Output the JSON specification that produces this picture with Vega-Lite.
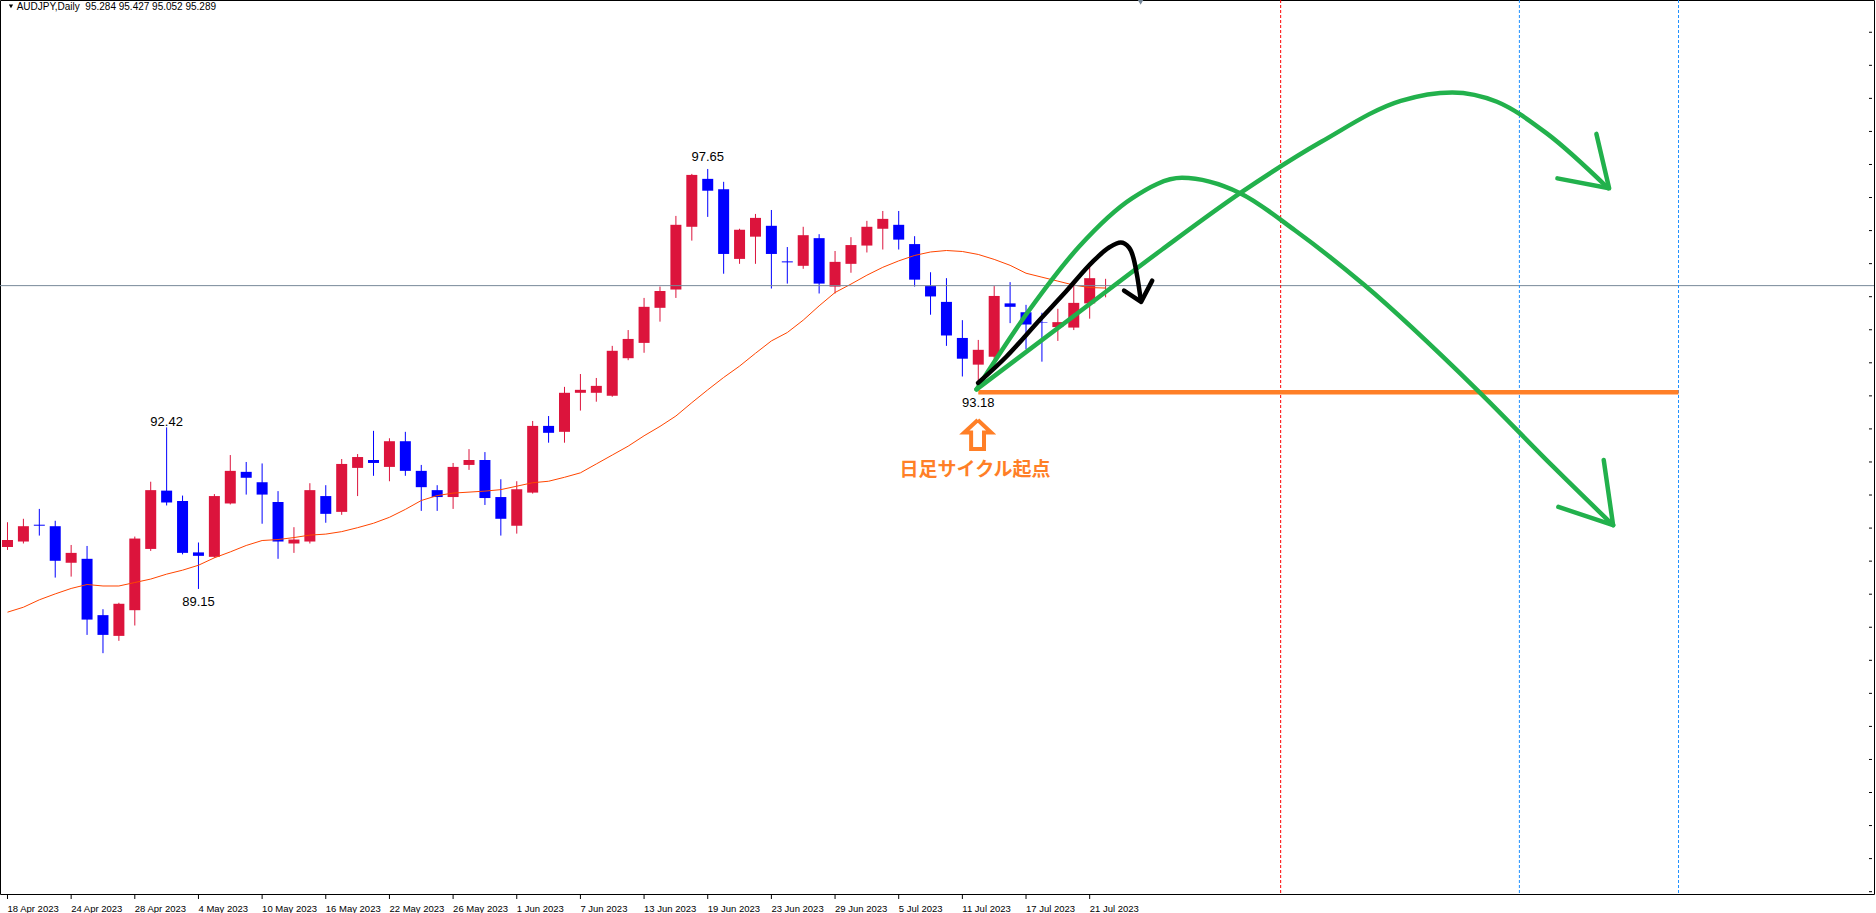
{
  "$schema": "https://vega.github.io/schema/vega-lite/v6.json",
  "width": 1874,
  "height": 894,
  "autosize": {"type": "none"},
  "padding": {"left": 0, "top": 0, "right": 2, "bottom": 19},
  "background": "#ffffff",
  "config": {"view": {"stroke": "#000000", "strokeWidth": 1}},
  "datasets": {
    "candles": [
      {"i":0,"o":90.00,"h":90.50,"l":89.94,"c":90.14,"m":88.68},
      {"i":1,"o":90.11,"h":90.57,"l":90.07,"c":90.42,"m":88.78},
      {"i":2,"o":90.45,"h":90.77,"l":90.23,"c":90.43,"m":88.93},
      {"i":3,"o":90.42,"h":90.53,"l":89.38,"c":89.72,"m":89.05},
      {"i":4,"o":89.68,"h":90.04,"l":89.40,"c":89.88,"m":89.16},
      {"i":5,"o":89.76,"h":90.02,"l":88.22,"c":88.53,"m":89.24},
      {"i":6,"o":88.62,"h":88.74,"l":87.85,"c":88.22,"m":89.21},
      {"i":7,"o":88.20,"h":88.87,"l":88.10,"c":88.85,"m":89.21},
      {"i":8,"o":88.72,"h":90.21,"l":88.41,"c":90.17,"m":89.28},
      {"i":9,"o":89.96,"h":91.32,"l":89.92,"c":91.15,"m":89.35},
      {"i":10,"o":91.14,"h":92.42,"l":90.84,"c":90.90,"m":89.45},
      {"i":11,"o":90.93,"h":91.04,"l":89.85,"c":89.88,"m":89.53},
      {"i":12,"o":89.89,"h":90.09,"l":89.15,"c":89.82,"m":89.63},
      {"i":13,"o":89.80,"h":91.07,"l":89.78,"c":91.03,"m":89.78},
      {"i":14,"o":90.88,"h":91.86,"l":90.86,"c":91.54,"m":89.90},
      {"i":15,"o":91.52,"h":91.72,"l":91.06,"c":91.40,"m":90.03},
      {"i":16,"o":91.31,"h":91.69,"l":90.47,"c":91.06,"m":90.13},
      {"i":17,"o":90.91,"h":91.13,"l":89.76,"c":90.11,"m":90.15},
      {"i":18,"o":90.07,"h":90.40,"l":89.88,"c":90.15,"m":90.19},
      {"i":19,"o":90.11,"h":91.29,"l":90.07,"c":91.15,"m":90.24},
      {"i":20,"o":91.03,"h":91.25,"l":90.49,"c":90.67,"m":90.26},
      {"i":21,"o":90.71,"h":91.78,"l":90.65,"c":91.68,"m":90.31},
      {"i":22,"o":91.60,"h":91.88,"l":91.03,"c":91.82,"m":90.39},
      {"i":23,"o":91.76,"h":92.35,"l":91.44,"c":91.70,"m":90.48},
      {"i":24,"o":91.62,"h":92.20,"l":91.33,"c":92.14,"m":90.60},
      {"i":25,"o":92.14,"h":92.33,"l":91.44,"c":91.54,"m":90.76},
      {"i":26,"o":91.54,"h":91.66,"l":90.73,"c":91.21,"m":90.94},
      {"i":27,"o":91.15,"h":91.25,"l":90.73,"c":91.01,"m":91.04},
      {"i":28,"o":91.01,"h":91.70,"l":90.77,"c":91.62,"m":91.09},
      {"i":29,"o":91.66,"h":91.98,"l":91.56,"c":91.76,"m":91.11},
      {"i":30,"o":91.76,"h":91.92,"l":90.85,"c":90.99,"m":91.13},
      {"i":31,"o":91.01,"h":91.37,"l":90.23,"c":90.57,"m":91.16},
      {"i":32,"o":90.43,"h":91.33,"l":90.27,"c":91.17,"m":91.23},
      {"i":33,"o":91.10,"h":92.55,"l":91.08,"c":92.45,"m":91.30},
      {"i":34,"o":92.45,"h":92.65,"l":92.11,"c":92.31,"m":91.33},
      {"i":35,"o":92.33,"h":93.24,"l":92.11,"c":93.12,"m":91.41},
      {"i":36,"o":93.12,"h":93.50,"l":92.76,"c":93.18,"m":91.50},
      {"i":37,"o":93.12,"h":93.42,"l":92.94,"c":93.26,"m":91.68},
      {"i":38,"o":93.06,"h":94.07,"l":93.04,"c":93.97,"m":91.86},
      {"i":39,"o":93.82,"h":94.39,"l":93.78,"c":94.21,"m":92.04},
      {"i":40,"o":94.13,"h":95.04,"l":93.93,"c":94.86,"m":92.25},
      {"i":41,"o":94.84,"h":95.27,"l":94.56,"c":95.18,"m":92.44},
      {"i":42,"o":95.21,"h":96.70,"l":95.04,"c":96.52,"m":92.65},
      {"i":43,"o":96.48,"h":97.55,"l":96.20,"c":97.53,"m":92.92},
      {"i":44,"o":97.45,"h":97.65,"l":96.68,"c":97.21,"m":93.18},
      {"i":45,"o":97.24,"h":97.39,"l":95.53,"c":95.93,"m":93.43},
      {"i":46,"o":95.83,"h":96.44,"l":95.73,"c":96.42,"m":93.66},
      {"i":47,"o":96.28,"h":96.74,"l":95.73,"c":96.66,"m":93.92},
      {"i":48,"o":96.50,"h":96.82,"l":95.23,"c":95.93,"m":94.17},
      {"i":49,"o":95.78,"h":96.07,"l":95.33,"c":95.76,"m":94.34},
      {"i":50,"o":95.69,"h":96.48,"l":95.63,"c":96.31,"m":94.59},
      {"i":51,"o":96.25,"h":96.33,"l":95.13,"c":95.33,"m":94.88},
      {"i":52,"o":95.27,"h":95.99,"l":95.13,"c":95.77,"m":95.15},
      {"i":53,"o":95.73,"h":96.27,"l":95.55,"c":96.11,"m":95.32},
      {"i":54,"o":96.10,"h":96.60,"l":95.96,"c":96.48,"m":95.50},
      {"i":55,"o":96.44,"h":96.80,"l":96.02,"c":96.64,"m":95.66},
      {"i":56,"o":96.52,"h":96.80,"l":96.02,"c":96.22,"m":95.79},
      {"i":57,"o":96.13,"h":96.29,"l":95.27,"c":95.41,"m":95.90},
      {"i":58,"o":95.28,"h":95.56,"l":94.70,"c":95.07,"m":95.97},
      {"i":59,"o":94.96,"h":95.44,"l":94.07,"c":94.28,"m":96.00},
      {"i":60,"o":94.23,"h":94.59,"l":93.45,"c":93.81,"m":95.98},
      {"i":61,"o":93.69,"h":94.19,"l":93.18,"c":93.99,"m":95.92},
      {"i":62,"o":93.85,"h":95.28,"l":93.78,"c":95.08,"m":95.82},
      {"i":63,"o":94.93,"h":95.36,"l":94.53,"c":94.86,"m":95.70},
      {"i":64,"o":94.75,"h":94.90,"l":94.00,"c":94.50,"m":95.54},
      {"i":65,"o":94.55,"h":94.74,"l":93.75,"c":94.54,"m":95.46},
      {"i":66,"o":94.45,"h":94.82,"l":94.17,"c":94.55,"m":95.38},
      {"i":67,"o":94.44,"h":95.30,"l":94.39,"c":94.94,"m":95.30},
      {"i":68,"o":94.93,"h":95.69,"l":94.62,"c":95.44,"m":95.25},
      {"i":69,"o":95.284,"h":95.427,"l":95.052,"c":95.289,"m":95.24}
    ],
    "dates": [
      {"i":0,"t":"18 Apr 2023"},{"i":4,"t":"24 Apr 2023"},{"i":8,"t":"28 Apr 2023"},{"i":12,"t":"4 May 2023"},
      {"i":16,"t":"10 May 2023"},{"i":20,"t":"16 May 2023"},{"i":24,"t":"22 May 2023"},{"i":28,"t":"26 May 2023"},
      {"i":32,"t":"1 Jun 2023"},{"i":36,"t":"7 Jun 2023"},{"i":40,"t":"13 Jun 2023"},{"i":44,"t":"19 Jun 2023"},
      {"i":48,"t":"23 Jun 2023"},{"i":52,"t":"29 Jun 2023"},{"i":56,"t":"5 Jul 2023"},{"i":60,"t":"11 Jul 2023"},
      {"i":64,"t":"17 Jul 2023"},{"i":68,"t":"21 Jul 2023"}
    ],
    "pticks": [
      {"p":83.023},{"p":83.692},{"p":84.361},{"p":85.03},{"p":85.699},{"p":86.368},{"p":87.037},{"p":87.706},
      {"p":88.375},{"p":89.044},{"p":89.713},{"p":90.382},{"p":91.051},{"p":91.72},{"p":92.389},{"p":93.058},
      {"p":93.727},{"p":94.396},{"p":95.065},{"p":95.734},{"p":96.403},{"p":97.072},{"p":97.741},{"p":98.41},
      {"p":99.079},{"p":99.748},{"p":100.417}
    ],
    "green": [
      {"g":"A","k":0,"x":60.89,"y":93.19},{"g":"A","k":1,"x":64.22,"y":94.80},{"g":"A","k":2,"x":67.34,"y":96.08},
      {"g":"A","k":3,"x":70.68,"y":97.06},{"g":"A","k":4,"x":73.80,"y":97.47},{"g":"A","k":5,"x":77.45,"y":97.16},
      {"g":"A","k":6,"x":80.89,"y":96.41},{"g":"A","k":7,"x":85.26,"y":95.30},{"g":"A","k":8,"x":92.34,"y":93.18},
      {"g":"A","k":9,"x":97.14,"y":91.62},{"g":"A","k":10,"x":100.89,"y":90.44},
      {"g":"B","k":0,"x":60.89,"y":93.19},{"g":"B","k":1,"x":67.34,"y":94.755},{"g":"B","k":2,"x":72.55,"y":96.02},
      {"g":"B","k":3,"x":77.45,"y":97.16},{"g":"B","k":4,"x":82.55,"y":98.20},{"g":"B","k":5,"x":87.55,"y":99.03},
      {"g":"B","k":6,"x":90.78,"y":99.20},{"g":"B","k":7,"x":93.59,"y":99.01},{"g":"B","k":8,"x":96.72,"y":98.37},
      {"g":"B","k":9,"x":100.58,"y":97.26}
    ],
    "black": [
      {"k":0,"x":60.99,"y":93.32},{"k":1,"x":62.76,"y":93.85},{"k":2,"x":64.84,"y":94.59},{"k":3,"x":66.51,"y":95.17},
      {"k":4,"x":68.18,"y":95.77},{"k":5,"x":69.22,"y":96.06},{"k":6,"x":69.95,"y":96.16},{"k":7,"x":70.47,"y":96.06},
      {"k":8,"x":70.78,"y":95.81},{"k":9,"x":70.99,"y":95.47},{"k":10,"x":71.22,"y":94.98}
    ],
    "heads": [
      {"g":"hA","k":0,"x":97.45,"y":90.81},{"g":"hA","k":1,"x":100.89,"y":90.44},{"g":"hA","k":2,"x":100.30,"y":91.76},
      {"g":"hB","k":0,"x":97.39,"y":97.46},{"g":"hB","k":1,"x":100.64,"y":97.26},{"g":"hB","k":2,"x":99.84,"y":98.36},
      {"g":"hK","k":0,"x":70.16,"y":95.19},{"g":"hK","k":1,"x":71.23,"y":94.96},{"g":"hK","k":2,"x":71.93,"y":95.39}
    ],
    "outline": [
      {"k":0,"x":60.97,"y":92.57},{"k":1,"x":61.81,"y":92.316},{"k":2,"x":61.36,"y":92.316},{"k":3,"x":61.36,"y":91.982},
      {"k":4,"x":60.55,"y":91.982},{"k":5,"x":60.55,"y":92.316},{"k":6,"x":60.12,"y":92.316},{"k":7,"x":60.97,"y":92.57}
    ],
    "labels": [
      {"i":44,"v":97.65,"t":"97.65","s":"top"},
      {"i":10,"v":92.42,"t":"92.42","s":"hi"},
      {"i":12,"v":89.15,"t":"89.15","s":"lo"},
      {"i":61,"v":93.18,"t":"93.18","s":"lo"}
    ],
    "vlines": [{"i":80},{"i":95},{"i":105}],
    "level": [{"a":61,"b":105,"p":93.13}],
    "bid": [{"p":95.289}]
  },
  "layer": [
    {
      "data": {"name": "candles"},
      "mark": {"type": "rule", "strokeWidth": 1},
      "encoding": {
        "x": {"field": "i", "type": "quantitative", "scale": {"domain": [-0.15625, 116.96875], "nice": false, "zero": false}, "axis": null},
        "y": {"field": "l", "type": "quantitative", "scale": {"domain": [82.976, 101.07], "nice": false, "zero": false}, "axis": null},
        "y2": {"field": "h"},
        "color": {"condition": {"test": "datum.c > datum.o", "value": "#DC143C"}, "value": "#0000FF"}
      }
    },
    {
      "data": {"name": "candles"},
      "mark": {"type": "bar", "size": 11},
      "encoding": {
        "x": {"field": "i", "type": "quantitative", "scale": {"domain": [-0.15625, 116.96875], "nice": false, "zero": false}, "axis": null},
        "y": {"field": "o", "type": "quantitative", "scale": {"domain": [82.976, 101.07], "nice": false, "zero": false}, "axis": null},
        "y2": {"field": "c"},
        "color": {"condition": {"test": "datum.c > datum.o", "value": "#DC143C"}, "value": "#0000FF"}
      }
    },
    {
      "data": {"name": "candles"},
      "mark": {"type": "line", "color": "#FF4500", "strokeWidth": 1},
      "encoding": {
        "x": {"field": "i", "type": "quantitative", "scale": {"domain": [-0.15625, 116.96875], "nice": false, "zero": false}, "axis": null},
        "y": {"field": "m", "type": "quantitative", "scale": {"domain": [82.976, 101.07], "nice": false, "zero": false}, "axis": null}
      }
    },
    {
      "data": {"name": "dates"},
      "mark": {"type": "rule", "color": "#000000", "strokeWidth": 1},
      "encoding": {
        "x": {"field": "i", "type": "quantitative", "scale": {"domain": [-0.15625, 116.96875], "nice": false, "zero": false}, "axis": null},
        "y": {"datum": 82.976, "type": "quantitative", "scale": {"domain": [82.976, 101.07], "nice": false, "zero": false}, "axis": null},
        "y2": {"datum": 82.875}
      }
    },
    {
      "data": {"name": "dates"},
      "mark": {"type": "text", "font": "Liberation Sans", "fontSize": 9.5, "color": "#000000", "align": "left", "baseline": "top", "dy": 9.5},
      "encoding": {
        "x": {"field": "i", "type": "quantitative", "scale": {"domain": [-0.15625, 116.96875], "nice": false, "zero": false}, "axis": null},
        "y": {"datum": 82.976, "type": "quantitative", "scale": {"domain": [82.976, 101.07], "nice": false, "zero": false}, "axis": null},
        "text": {"field": "t"}
      }
    },
    {
      "data": {"name": "pticks"},
      "mark": {"type": "rule", "color": "#000000", "strokeWidth": 1},
      "encoding": {
        "x": {"datum": 116.96875, "type": "quantitative", "scale": {"domain": [-0.15625, 116.96875], "nice": false, "zero": false}, "axis": null},
        "x2": {"datum": 117.15625},
        "y": {"field": "p", "type": "quantitative", "scale": {"domain": [82.976, 101.07], "nice": false, "zero": false}, "axis": null}
      }
    },
    {
      "data": {"name": "bid"},
      "mark": {"type": "rule", "color": "#778899", "strokeWidth": 1},
      "encoding": {
        "y": {"field": "p", "type": "quantitative", "scale": {"domain": [82.976, 101.07], "nice": false, "zero": false}, "axis": null}
      }
    },
    {
      "data": {"name": "vlines"},
      "mark": {"type": "rule", "strokeWidth": 1, "strokeDash": [3, 2]},
      "encoding": {
        "x": {"field": "i", "type": "quantitative", "scale": {"domain": [-0.15625, 116.96875], "nice": false, "zero": false}, "axis": null},
        "color": {"condition": {"test": "datum.i == 80", "value": "#FF0000"}, "value": "#1E90FF"}
      }
    },
    {
      "data": {"name": "level"},
      "mark": {"type": "rule", "color": "#FF7F27", "strokeWidth": 4.5, "strokeCap": "butt"},
      "encoding": {
        "x": {"field": "a", "type": "quantitative", "scale": {"domain": [-0.15625, 116.96875], "nice": false, "zero": false}, "axis": null},
        "x2": {"field": "b"},
        "y": {"field": "p", "type": "quantitative", "scale": {"domain": [82.976, 101.07], "nice": false, "zero": false}, "axis": null}
      }
    },
    {
      "data": {"name": "green"},
      "mark": {"type": "line", "color": "#22B14C", "strokeWidth": 4.5, "interpolate": "monotone", "strokeCap": "round"},
      "encoding": {
        "x": {"field": "x", "type": "quantitative", "scale": {"domain": [-0.15625, 116.96875], "nice": false, "zero": false}, "axis": null},
        "y": {"field": "y", "type": "quantitative", "scale": {"domain": [82.976, 101.07], "nice": false, "zero": false}, "axis": null},
        "detail": {"field": "g"},
        "order": {"field": "k", "type": "quantitative"}
      }
    },
    {
      "data": {"name": "black"},
      "mark": {"type": "line", "color": "#000000", "strokeWidth": 4.5, "interpolate": "monotone", "strokeCap": "round"},
      "encoding": {
        "x": {"field": "x", "type": "quantitative", "scale": {"domain": [-0.15625, 116.96875], "nice": false, "zero": false}, "axis": null},
        "y": {"field": "y", "type": "quantitative", "scale": {"domain": [82.976, 101.07], "nice": false, "zero": false}, "axis": null},
        "order": {"field": "k", "type": "quantitative"}
      }
    },
    {
      "data": {"name": "heads"},
      "mark": {"type": "line", "strokeWidth": 4.5, "strokeCap": "round", "strokeJoin": "round"},
      "encoding": {
        "x": {"field": "x", "type": "quantitative", "scale": {"domain": [-0.15625, 116.96875], "nice": false, "zero": false}, "axis": null},
        "y": {"field": "y", "type": "quantitative", "scale": {"domain": [82.976, 101.07], "nice": false, "zero": false}, "axis": null},
        "detail": {"field": "g"},
        "order": {"field": "k", "type": "quantitative"},
        "color": {"condition": {"test": "datum.g == 'hK'", "value": "#000000"}, "value": "#22B14C"}
      }
    },
    {
      "data": {"name": "outline"},
      "mark": {"type": "line", "color": "#FF7F27", "strokeWidth": 4, "strokeJoin": "miter"},
      "encoding": {
        "x": {"field": "x", "type": "quantitative", "scale": {"domain": [-0.15625, 116.96875], "nice": false, "zero": false}, "axis": null},
        "y": {"field": "y", "type": "quantitative", "scale": {"domain": [82.976, 101.07], "nice": false, "zero": false}, "axis": null},
        "order": {"field": "k", "type": "quantitative"}
      }
    },
    {
      "data": {"name": "labels"},
      "transform": [{"filter": "datum.s == 'top'"}],
      "mark": {"type": "text", "font": "Liberation Sans", "fontSize": 13, "color": "#000000", "align": "center", "baseline": "middle", "dy": -12},
      "encoding": {
        "x": {"field": "i", "type": "quantitative", "scale": {"domain": [-0.15625, 116.96875], "nice": false, "zero": false}, "axis": null},
        "y": {"field": "v", "type": "quantitative", "scale": {"domain": [82.976, 101.07], "nice": false, "zero": false}, "axis": null},
        "text": {"field": "t"}
      }
    },
    {
      "data": {"name": "labels"},
      "transform": [{"filter": "datum.s == 'hi'"}],
      "mark": {"type": "text", "font": "Liberation Sans", "fontSize": 13, "color": "#000000", "align": "center", "baseline": "middle", "dy": -5},
      "encoding": {
        "x": {"field": "i", "type": "quantitative", "scale": {"domain": [-0.15625, 116.96875], "nice": false, "zero": false}, "axis": null},
        "y": {"field": "v", "type": "quantitative", "scale": {"domain": [82.976, 101.07], "nice": false, "zero": false}, "axis": null},
        "text": {"field": "t"}
      }
    },
    {
      "data": {"name": "labels"},
      "transform": [{"filter": "datum.s == 'lo'"}],
      "mark": {"type": "text", "font": "Liberation Sans", "fontSize": 13, "color": "#000000", "align": "center", "baseline": "middle", "dy": 13},
      "encoding": {
        "x": {"field": "i", "type": "quantitative", "scale": {"domain": [-0.15625, 116.96875], "nice": false, "zero": false}, "axis": null},
        "y": {"field": "v", "type": "quantitative", "scale": {"domain": [82.976, 101.07], "nice": false, "zero": false}, "axis": null},
        "text": {"field": "t"}
      }
    },
    {
      "data": {"values": [{"t": "日足サイクル起点"}]},
      "mark": {"type": "text", "font": "Noto Sans CJK JP", "fontSize": 19, "fontWeight": "bold", "color": "#FF7F27", "align": "center", "baseline": "middle"},
      "encoding": {
        "x": {"datum": 60.8, "type": "quantitative", "scale": {"domain": [-0.15625, 116.96875], "nice": false, "zero": false}, "axis": null},
        "y": {"datum": 91.557, "type": "quantitative", "scale": {"domain": [82.976, 101.07], "nice": false, "zero": false}, "axis": null},
        "text": {"field": "t"}
      }
    },
    {
      "data": {"values": [{"t": "AUDJPY,Daily\u00a0 95.284 95.427 95.052 95.289"}]},
      "mark": {"type": "text", "font": "Liberation Sans", "fontSize": 10, "color": "#000000", "align": "left", "baseline": "alphabetic"},
      "encoding": {
        "x": {"datum": 0.575, "type": "quantitative", "scale": {"domain": [-0.15625, 116.96875], "nice": false, "zero": false}, "axis": null},
        "y": {"datum": 100.868, "type": "quantitative", "scale": {"domain": [82.976, 101.07], "nice": false, "zero": false}, "axis": null},
        "text": {"field": "t"}
      }
    },
    {
      "data": {"values": [{"s": "hdr"}]},
      "mark": {"type": "point", "shape": "triangle-down", "filled": true, "size": 18, "color": "#000000", "opacity": 1},
      "encoding": {
        "x": {"datum": 0.22, "type": "quantitative", "scale": {"domain": [-0.15625, 116.96875], "nice": false, "zero": false}, "axis": null},
        "y": {"datum": 100.94, "type": "quantitative", "scale": {"domain": [82.976, 101.07], "nice": false, "zero": false}, "axis": null}
      }
    },
    {
      "data": {"values": [{"s": "shift"}]},
      "mark": {"type": "point", "shape": "triangle-down", "filled": true, "size": 40, "color": "#778899", "opacity": 1},
      "encoding": {
        "x": {"datum": 71.2, "type": "quantitative", "scale": {"domain": [-0.15625, 116.96875], "nice": false, "zero": false}, "axis": null},
        "y": {"datum": 101.03, "type": "quantitative", "scale": {"domain": [82.976, 101.07], "nice": false, "zero": false}, "axis": null}
      }
    }
  ]
}
